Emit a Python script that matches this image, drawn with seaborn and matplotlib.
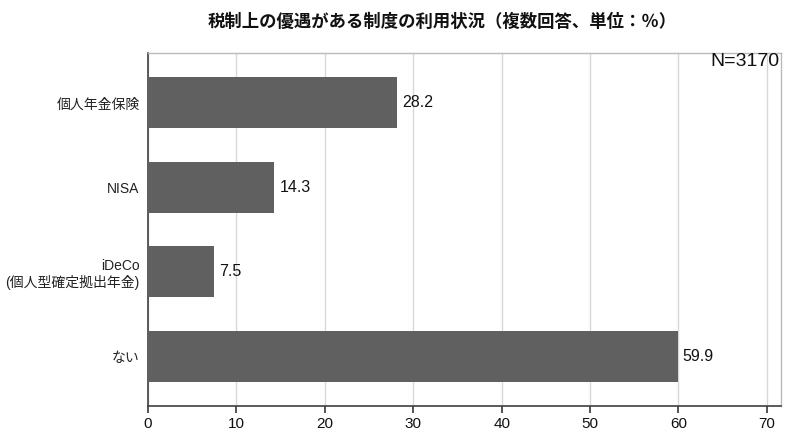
import matplotlib
matplotlib.use("Agg")
import matplotlib.pyplot as plt
import seaborn as sns
import pandas as pd

categories = ["個人年金保険", "NISA", "iDeCo\n(個人型確定拠出年金)", "ない"]
values = [28.2, 14.3, 7.5, 59.9]
xticks = [0, 10, 20, 30, 40, 50, 60, 70]

sns.set_theme(style="white")
plt.rcParams['font.family'] = ['Liberation Sans', 'Noto Sans CJK JP']

df = pd.DataFrame({"cat": categories, "val": values})

fig = plt.figure(figsize=(7.89, 4.40), dpi=100)
ax = fig.add_axes([148/789, 1-406/440, (781-148)/789, (406-53)/440])
sns.barplot(data=df, y="cat", x="val", orient="h", color="#606060",
            saturation=1, width=0.6, ax=ax, zorder=3, linewidth=0)
ax.set_xlim(0, 71.6)
ax.set_ylim(3.59, -0.59)
ax.set_xticks(xticks)
ax.set_xlabel("")
ax.set_ylabel("")
ax.grid(axis="x", color="#d8d8d8", linewidth=1, zorder=0)
ax.set_axisbelow(True)
for s in ["top", "right"]:
    ax.spines[s].set_color("#bbbbbb")
    ax.spines[s].set_linewidth(1)
for s in ["left", "bottom"]:
    ax.spines[s].set_color("#404040")
    ax.spines[s].set_linewidth(1.2)
ax.tick_params(axis="x", length=5, color="#404040", labelsize=11, pad=3, direction="out", bottom=True)
ax.tick_params(axis="y", length=0, labelsize=10, pad=6)
for lbl in ax.get_xticklabels():
    lbl.set_color("#111111")
for lbl in ax.get_yticklabels():
    lbl.set_color("#222222")

for i, v in enumerate(values):
    ax.text(v + 0.6, i, f"{v:.1f}", va="center", ha="left", fontsize=11.5, color="#111111")

ax.text(0.998, 1.0, "N=3170", transform=ax.transAxes, ha="right", va="top", fontsize=14, color="#111111")
fig.text(0.561, 1-22/440, "税制上の優遇がある制度の利用状況（複数回答、単位：％）", ha="center", va="center",
         fontsize=12.5, fontweight="bold", color="#111111", family=['Noto Sans CJK JP'])

fig.savefig("out.png", dpi=100)
